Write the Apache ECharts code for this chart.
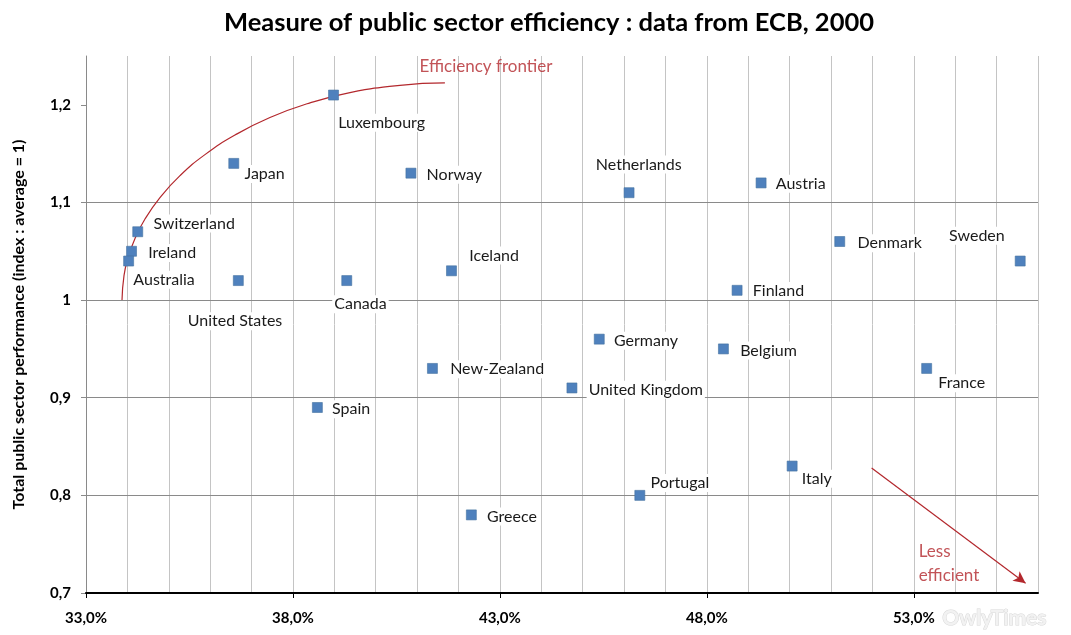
<!DOCTYPE html>
<html>
<head>
<meta charset="utf-8">
<script src="https://cdn.jsdelivr.net/npm/echarts@6/dist/echarts.min.js"></script>
<style>
html,body{margin:0;padding:0;background:#fff;}
#chart{width:1071px;height:635px;}
</style>
</head>
<body>
<div id="chart"></div>
<script>
// ---- data ----
const countries = ['Luxembourg','Japan','Norway','Switzerland','Ireland','Australia','United States','Canada','Iceland','Netherlands','Austria','Denmark','Sweden','Finland','New-Zealand','Spain','Greece','Germany','United Kingdom','Belgium','France','Italy','Portugal'];
const spending = [38.98,36.57,40.85,34.25,34.10,34.03,36.68,39.30,41.83,46.12,49.31,51.21,55.57,48.73,41.37,38.59,42.31,45.40,44.74,48.40,53.31,50.06,46.38];
const performance = [1.21,1.14,1.13,1.07,1.05,1.04,1.02,1.02,1.03,1.11,1.12,1.06,1.04,1.01,0.93,0.89,0.78,0.96,0.91,0.95,0.93,0.83,0.80];
// hand-drawn "efficiency frontier" curve
const frontierX = [33.870,33.918,34.014,34.184,34.425,34.787,35.271,35.874,36.599,37.444,38.411,39.377,40.585,41.671];
const frontierY = [1.000,1.025,1.043,1.063,1.083,1.105,1.1275,1.149,1.169,1.187,1.202,1.2125,1.220,1.2224];
const arrowStart = [51.98,0.828];
const arrowEnd = [55.70,0.710];
const xTicks = [33,38,43,48,53];
const yTicks = [0.7,0.8,0.9,1.0,1.1,1.2];
const notes = ['Efficiency frontier','Less\nefficient'];
const notesX = [41.07,53.13];
const notesY = [1.2385,0.730];

// ---- label layout (pixel offsets from marker centre: dx, dy, align) ----
const labelLayout = {
  'Luxembourg':[5,28,'left'],'Japan':[11,11,'left'],'Norway':[16,2,'left'],
  'Switzerland':[16,-8,'left'],'Ireland':[17,2,'left'],'Australia':[5,19,'left'],
  'United States':[-3,41,'center'],'Canada':[14,24,'center'],'Iceland':[18,-15,'left'],
  'Netherlands':[10,-28,'center'],'Austria':[15,1,'left'],'Denmark':[18,2,'left'],
  'Sweden':[-43,-25,'center'],'Finland':[16,1,'left'],'New-Zealand':[18,1,'left'],
  'Spain':[15,2,'left'],'Greece':[16,2,'left'],'Germany':[15,2,'left'],
  'United Kingdom':[17,2,'left'],'Belgium':[17,2,'left'],'France':[12,15,'left'],
  'Italy':[10,13,'left'],'Portugal':[11,-12,'left']
};

const FONT = 'Lato';
const RED = '#B3282D';
const SYM = 10;
const PAD = 2;

const points = countries.map((c, i) => {
  const l = labelLayout[c];
  const dx = l[2] === 'left' ? l[0] - PAD : l[0];
  return {
    name: c,
    value: [spending[i], performance[i]],
    label: {
      position: [SYM / 2 + dx, SYM / 2 + l[1]],
      align: l[2],
      verticalAlign: 'middle'
    }
  };
});

const fmtPct = v => v.toFixed(1).replace('.', ',') + '%';
const fmtY = v => Math.abs(v - 1) < 1e-9 ? '1' : (Math.round(v * 10) / 10).toString().replace('.', ',');

const chart = echarts.init(document.getElementById('chart'), null, {renderer: 'canvas'});
chart.setOption({
  animation: false,
  backgroundColor: '#fff',
  title: {
    text: 'Measure of public sector efficiency : data from ECB, 2000',
    left: 544, top: 5, textAlign: 'center',
    textStyle: {fontFamily: FONT, fontWeight: 'bold', fontSize: 25.5, color: '#000'}
  },
  grid: {left: 86, right: 33, top: 56, bottom: 42, containLabel: false},
  xAxis: [
    {
      type: 'value', min: 33, max: 56, interval: 1,
      axisLine: {show: true, onZero: false, lineStyle: {color: '#000', width: 2}},
      axisTick: {show: true, length: 5, customValues: xTicks, lineStyle: {color: '#000', width: 1}},
      axisLabel: {show: true, customValues: xTicks, formatter: fmtPct, margin: 18,
        fontFamily: FONT, fontWeight: 'bold', fontSize: 15, color: '#000'},
      splitLine: {show: false},
      z: 3
    },
    {
      type: 'value', min: 33, max: 56, interval: 1, position: 'bottom',
      axisLine: {show: false}, axisTick: {show: false}, axisLabel: {show: false},
      splitLine: {show: true, lineStyle: {color: '#c4c4c4', width: 1}},
      z: 1
    }
  ],
  yAxis: {
    type: 'value', min: 0.7, max: 1.25, interval: 0.1,
    name: 'Total public sector performance (index : average = 1)',
    nameLocation: 'middle', nameGap: 59, nameRotate: 90,
    nameTextStyle: {fontFamily: FONT, fontWeight: 'bold', fontSize: 16, color: '#000'},
    axisLine: {show: true, onZero: false, lineStyle: {color: '#8a8a8a', width: 1}},
    axisTick: {show: true, length: 5, customValues: yTicks, lineStyle: {color: '#8a8a8a'}},
    axisLabel: {show: true, customValues: yTicks, formatter: fmtY, margin: 15,
      fontFamily: FONT, fontWeight: 'bold', fontSize: 15, color: '#000'},
    splitLine: {show: true, showMaxLine: false, lineStyle: {color: '#8a8a8a', width: 1}},
    z: 2
  },
  series: [
    {
      name: 'Efficiency frontier', type: 'line', smooth: true,
      showSymbol: false, symbol: 'none', silent: true, z: 3,
      lineStyle: {color: RED, width: 1.2},
      data: frontierX.map((x, i) => [x, frontierY[i]]),
      markLine: {
        silent: true, symbol: ['none', 'arrow'], symbolSize: [9, 12],
        label: {show: false},
        lineStyle: {color: RED, width: 1.2, type: 'solid'},
        data: [[{coord: arrowStart}, {coord: arrowEnd}]]
      }
    },
    {
      name: 'Countries', type: 'scatter', symbol: 'rect', symbolSize: SYM, z: 5,
      itemStyle: {color: '#4F81BD', opacity: 1, borderColor: '#45729F', borderWidth: 0.6},
      label: {
        show: true, formatter: '{b}', fontFamily: FONT, fontSize: 16, color: '#1a1a1a',
        backgroundColor: '#fff', padding: [1, PAD, 1, PAD]
      },
      labelLayout: {hideOverlap: false},
      data: points
    },
    {
      name: 'Notes', type: 'scatter', symbolSize: 1, silent: true, z: 4,
      itemStyle: {color: 'rgba(0,0,0,0)'},
      label: {show: true, formatter: '{b}', position: [0, 0], align: 'left', verticalAlign: 'middle',
        fontFamily: FONT, fontSize: 17, color: RED, lineHeight: 24},
      data: notes.map((n, i) => ({name: n, value: [notesX[i], notesY[i]]}))
    }
  ],
  graphic: [{
    type: 'text', right: 24, bottom: 6,
    style: {text: 'OwlyTimes', fontFamily: FONT, fontWeight: 'bold', fontSize: 21,
      fill: '#f2f2f2', stroke: '#d8d8d8', lineWidth: 1}
  }]
});
</script>
</body>
</html>
